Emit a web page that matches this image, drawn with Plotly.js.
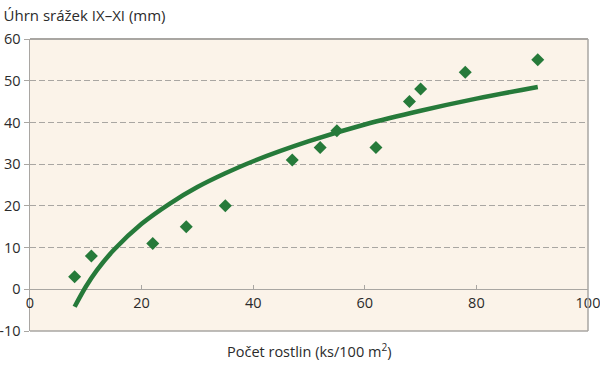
<!DOCTYPE html>
<html>
<head>
<meta charset="utf-8">
<script src="https://cdn.plot.ly/plotly-3.0.1.min.js"></script>
<style>html,body{margin:0;padding:0;background:#fff;}#chart{width:600px;height:365px;}</style>
</head>
<body>
<div id="chart"></div>
<script>
// Observed points
const plantCount = [8, 11, 22, 28, 35, 47, 52, 55, 62, 68, 70, 78, 91];
const rainfall   = [3, 8, 11, 15, 20, 31, 34, 38, 34, 45, 48, 52, 55];

// Trend curve
const trendX = [8, 10, 12, 15, 20, 25, 30, 35, 40, 50, 60, 70, 80, 91];
const trendY = [-4.2, 0.6, 4.6, 9.4, 15.7, 20.5, 24.5, 27.8, 30.7, 35.5, 39.5, 42.8, 45.7, 48.5];

// Axis ticks
const yTickVals = [-10, 0, 10, 20, 30, 40, 50, 60];
const yTickText = ['-10', '0', '10', '20', '30', '40', '50', '60'];
const xTickVals = [0, 20, 40, 60, 80, 100];
const xTickText = ['0', '20', '40', '60', '80', '100'];

const green = '#267a3a';
const gray = '#a9a6a2';
const font = {family: 'Open Sans, sans-serif', size: 14.5, color: '#2b2b2b'};

const data = [
  {
    x: trendX, y: trendY, type: 'scatter', mode: 'lines',
    line: {color: green, width: 4.5, shape: 'spline'},
    hoverinfo: 'skip'
  },
  {
    x: plantCount, y: rainfall, type: 'scatter', mode: 'markers',
    marker: {symbol: 'diamond', size: 10, color: green}
  }
];

const layout = {
  width: 600, height: 365,
  margin: {l: 29.5, r: 12, t: 39, b: 34, pad: 0},
  paper_bgcolor: '#ffffff',
  plot_bgcolor: '#fbf3e9',
  showlegend: false,
  font: font,
  title: {
    text: 'Úhrn srážek IX–XI (mm)',
    font: {family: 'Open Sans, sans-serif', size: 15, color: '#2b2b2b'},
    xref: 'container', x: 0.006, xanchor: 'left',
    yref: 'container', y: 0.958, yanchor: 'middle'
  },
  xaxis: {
    range: [0, 100],
    tickvals: xTickVals, ticktext: xTickText,
    ticks: 'inside', ticklen: 4, tickcolor: gray, tickwidth: 1,
    showgrid: false, zeroline: false,
    showline: false,
    anchor: 'free', position: 1/7,
    tickfont: font,
    ticklabelstandoff: 3,
    ticklabeloverflow: 'allow'
  },
  yaxis: {
    range: [-10, 60],
    tickvals: yTickVals, ticktext: yTickText,
    ticks: 'outside', ticklen: 5, tickcolor: gray, tickwidth: 1,
    showgrid: true, gridcolor: gray, griddash: '6px,3px', gridwidth: 1,
    zeroline: true, zerolinecolor: gray, zerolinewidth: 1.3,
    showline: true, linecolor: gray, linewidth: 1.5,
    tickfont: font,
    ticklabeloverflow: 'allow'
  },
  annotations: [
    {text: 'Počet rostlin (ks/100 m<sup>2</sup>)', xref: 'paper', yref: 'paper',
     x: 0.5, y: -0.068, xanchor: 'center', yanchor: 'middle', showarrow: false,
     font: font}
  ],
  shapes: [
    {type: 'line', xref: 'paper', yref: 'paper', x0: 0, x1: 1, y0: 1, y1: 1, line: {color: gray, width: 2}},
    {type: 'line', xref: 'paper', yref: 'paper', x0: 1, x1: 1, y0: 0, y1: 1, line: {color: gray, width: 1.5}},
    {type: 'line', xref: 'paper', yref: 'paper', x0: 0, x1: 1, y0: 0, y1: 0, line: {color: gray, width: 1.5}}
  ]
};

Plotly.newPlot('chart', data, layout, {staticPlot: true, displayModeBar: false});
</script>
</body>
</html>
